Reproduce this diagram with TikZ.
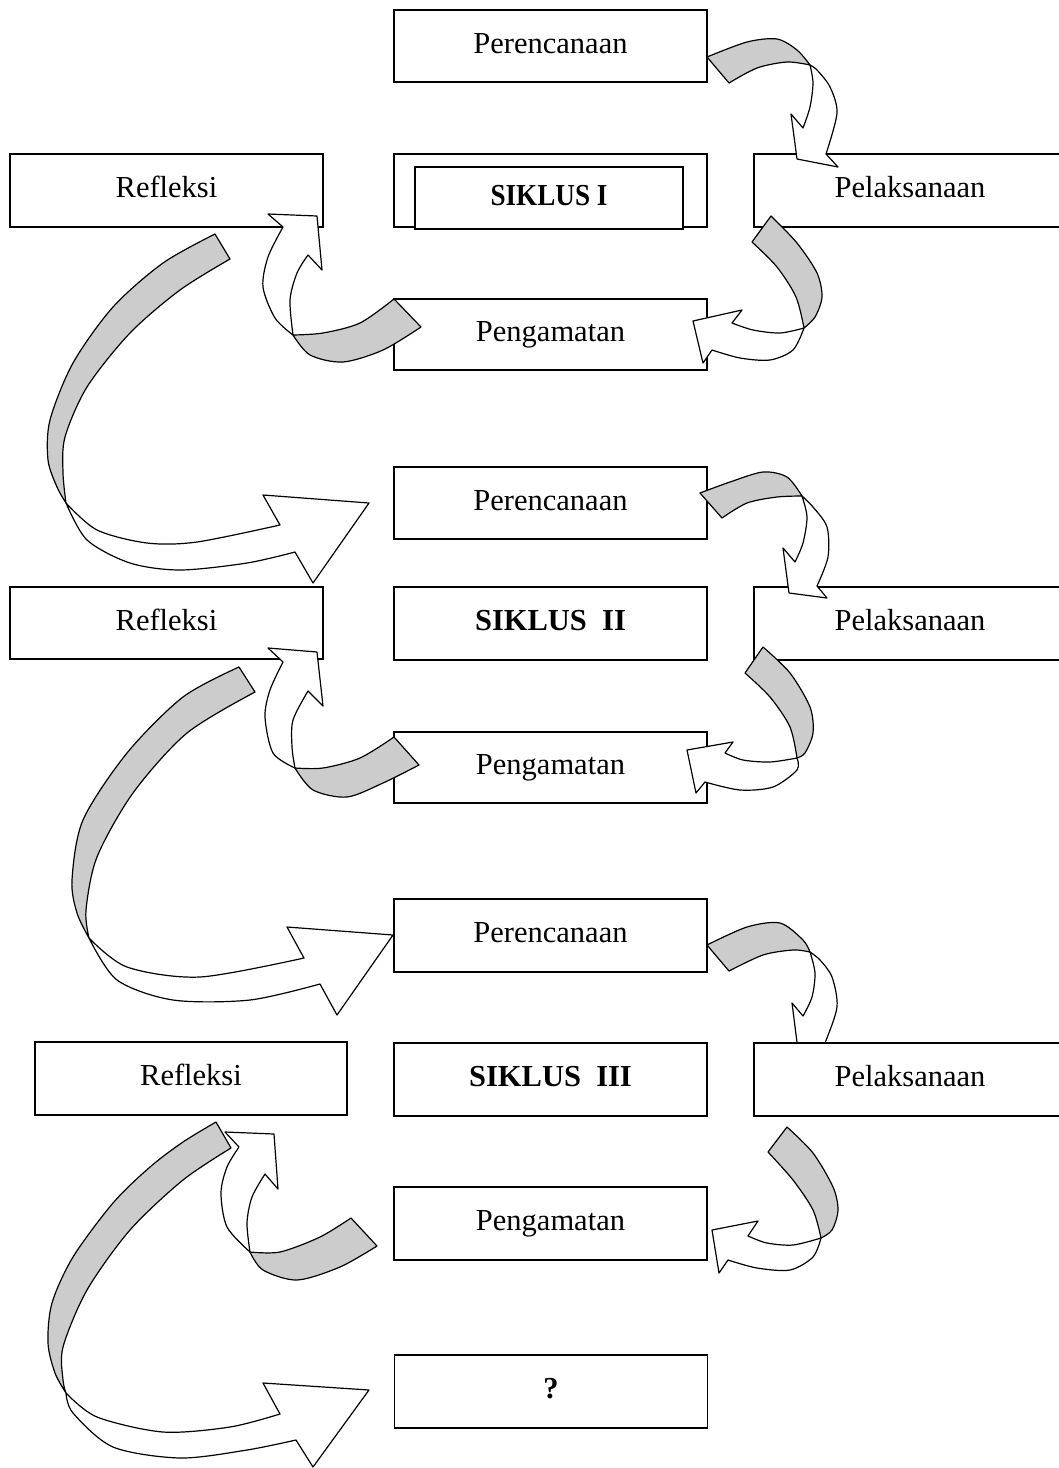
\documentclass[tikz,border=0pt]{standalone}
\usepackage{fontspec}
\setmainfont{Liberation Serif}
\usepackage{graphicx}
\definecolor{bandgray}{RGB}{204,204,204}
\tikzset{
  box/.style={draw, line width=1.5pt, fill=white, rectangle, inner sep=0pt,
    minimum width=313pt, minimum height=72pt, text height=20pt, text depth=6pt,
    font=\fontsize{30.5}{36}\selectfont},
  backband/.style={draw, fill=bandgray, line width=1.2pt, line join=round},
  frontband/.style={draw, fill=white, line width=1.2pt, line join=round},
}
\begin{document}
\begin{tikzpicture}[x=1pt,y=-1pt]
\useasboundingbox (0,0) rectangle (1059,1468);

% ---------- Cycle I boxes ----------
\node[box] (per1) at (550.5,46) {Perencanaan};
\node[box, minimum height=73pt] (ref1) at (166.5,190.5) {Refleksi};
\node[box, minimum height=73pt] (sik1o) at (550.5,190.5) {};
\node[box, minimum width=268pt, minimum height=62pt] (sik1) at (549,198) {\bfseries\scalebox{0.89}[1]{SIKLUS I}};
\node[box, minimum width=312pt, minimum height=73pt] (pel1) at (910,190.5) {Pelaksanaan};
\node[box, minimum height=71pt] (pen1) at (550.5,334.5) {Pengamatan};

% ---------- Cycle II boxes ----------
\node[box] (per2) at (550.5,503) {Perencanaan};
\node[box] (ref2) at (166.5,623) {Refleksi};
\node[box, minimum height=73pt] (sik2) at (550.5,623.5) {\bfseries SIKLUS\ \ II};
\node[box, minimum width=312pt, minimum height=73pt] (pel2) at (910,623.5) {Pelaksanaan};
\node[box, minimum height=71pt] (pen2) at (550.5,767.5) {Pengamatan};

% ---------- Cycle III boxes ----------
\node[box, minimum height=73pt] (per3) at (550.5,935.5) {Perencanaan};
\node[box, minimum width=312pt, minimum height=73pt] (ref3) at (191,1078.5) {Refleksi};
\node[box, minimum height=73pt] (sik3) at (550.5,1079.5) {\bfseries SIKLUS\ \ III};
\node[box, minimum height=73pt] (pen3) at (550.5,1223.5) {Pengamatan};
\node[box, minimum height=73pt] (q) at (551,1391.5) {\bfseries ?};

% ================= Cycle I arrows =================
% A1: Perencanaan -> Pelaksanaan
\path[backband] plot[smooth] coordinates {(707,57) (747,42) (777,39) (797,50) (810,65)}
  -- plot[smooth] coordinates {(810,65) (787,62) (757,68) (729,83)} -- cycle;
\path[frontband] plot[smooth] coordinates {(810,65) (813,83) (810,107) (803,128)}
  -- (791,114) -- (797,159) -- (838,167) -- (826,154)
  -- plot[smooth] coordinates {(826,154) (837,113) (830,87) (817,70) (810,65)} -- cycle;

% C1: Pelaksanaan -> Pengamatan
\path[backband] plot[smooth] coordinates {(771,216) (797,243) (817,273) (822,297) (815,317) (804,328)}
  -- plot[smooth] coordinates {(804,328) (796,297) (777,267) (752,242)} -- cycle;
\path[frontband] plot[smooth] coordinates {(804,328) (780,333) (753,330) (732,323)}
  -- (742,310) -- (693,321) -- (703,363) -- (712,350)
  -- plot[smooth] coordinates {(712,350) (740,358) (770,360) (793,350) (804,328)} -- cycle;

% B1: Pengamatan -> Refleksi
\path[backband] plot[smooth] coordinates {(394,299) (360,323) (323,333) (293,335)}
  -- plot[smooth] coordinates {(293,335) (310,355) (343,362) (383,350) (421,327)} -- cycle;
\path[frontband] plot[smooth] coordinates {(293,335) (275,318) (263,287) (268,257) (283,227)}
  -- (268,214) -- (317,216) -- (322,270) -- (308,255)
  -- plot[smooth] coordinates {(308,255) (297,273) (290,300) (293,335)} -- cycle;

% D1: Refleksi -> Perencanaan II
\path[backband] plot[smooth] coordinates {(215,234) (163,263) (113,307) (73,363) (50,420) (48,460) (57,487) (66,503)}
  -- plot[smooth] coordinates {(66,503) (63,473) (65,437) (87,387) (130,333) (180,290) (230,259)} -- cycle;
\path[frontband] plot[smooth] coordinates {(66,503) (97,530) (147,543) (197,542) (280,525)}
  -- (263,495) -- (369,503) -- (313,583) -- (295,552)
  -- plot[smooth] coordinates {(295,552) (247,563) (180,570) (130,563) (87,540) (66,503)} -- cycle;

% ================= Cycle II arrows =================
% A2
\path[backband] plot[smooth] coordinates {(700,493) (730,482) (763,472) (787,477) (802,496)}
  -- plot[smooth] coordinates {(802,496) (777,497) (747,503) (722,518)} -- cycle;
\path[frontband] plot[smooth] coordinates {(802,496) (807,517) (803,543) (795,562)}
  -- (783,548) -- (789,593) -- (827,598) -- (817,586)
  -- plot[smooth] coordinates {(817,586) (828,557) (827,527) (813,507) (802,496)} -- cycle;

% C2
\path[backband] plot[smooth] coordinates {(763,647) (790,673) (810,707) (813,733) (805,753) (797,758)}
  -- plot[smooth] coordinates {(797,758) (790,727) (770,697) (745,673)} -- cycle;
\path[frontband] plot[smooth] coordinates {(797,758) (770,762) (743,760) (725,753)}
  -- (733,742) -- (687,750) -- (696,793) -- (705,782)
  -- plot[smooth] coordinates {(705,782) (740,790) (773,787) (797,770) (797,758)} -- cycle;

% B2
\path[backband] plot[smooth] coordinates {(394,737) (360,758) (323,768) (295,768)}
  -- plot[smooth] coordinates {(295,768) (313,790) (347,797) (383,783) (419,765)} -- cycle;
\path[frontband] plot[smooth] coordinates {(295,768) (273,753) (265,717) (270,690) (283,662)}
  -- (268,648) -- (317,652) -- (323,706) -- (308,691)
  -- plot[smooth] coordinates {(308,691) (293,720) (292,747) (295,768)} -- cycle;

% D2
\path[backband] plot[smooth] coordinates {(239,667) (183,697) (127,753) (83,820) (72,880) (77,913) (89,938)}
  -- plot[smooth] coordinates {(89,938) (86,910) (97,857) (133,793) (187,733) (255,692)} -- cycle;
\path[frontband] plot[smooth] coordinates {(89,938) (127,967) (200,977) (304,958)}
  -- (287,927) -- (393,935) -- (337,1015) -- (320,984)
  -- plot[smooth] coordinates {(320,984) (250,1000) (173,1000) (117,980) (89,938)} -- cycle;

% ================= Cycle III arrows =================
% A3 (head hidden under Pelaksanaan)
\path[backband] plot[smooth] coordinates {(707,945) (747,927) (780,923) (803,940) (810,952)}
  -- plot[smooth] coordinates {(810,952) (793,950) (763,955) (729,971)} -- cycle;
\path[frontband] plot[smooth] coordinates {(810,952) (815,973) (812,997) (803,1016)}
  -- (792,1003) -- (798,1050) -- (836,1062) -- (821,1050)
  -- plot[smooth] coordinates {(821,1050) (825,1043) (837,1007) (832,977) (820,960) (810,952)} -- cycle;

% C3
\path[backband] plot[smooth] coordinates {(787,1127) (813,1153) (833,1187) (838,1210) (832,1230) (821,1238)}
  -- plot[smooth] coordinates {(821,1238) (813,1210) (793,1180) (768,1152)} -- cycle;
\path[frontband] plot[smooth] coordinates {(821,1238) (793,1245) (767,1243) (748,1236)}
  -- (758,1221) -- (712,1230) -- (719,1273) -- (728,1260)
  -- plot[smooth] coordinates {(728,1260) (757,1268) (790,1270) (813,1257) (821,1238)} -- cycle;

% D3
\path[backband] plot[smooth] coordinates {(216,1122) (183,1142) (150,1167) (113,1203) (73,1257) (52,1303) (48,1343) (55,1373) (66,1393)}
  -- plot[smooth] coordinates {(66,1393) (63,1380) (63,1347) (87,1290) (130,1230) (183,1180) (231,1148)} -- cycle;
\path[frontband] plot[smooth] coordinates {(66,1393) (97,1417) (163,1432) (230,1427) (280,1414)}
  -- (263,1383) -- (369,1390) -- (313,1467) -- (296,1440)
  -- plot[smooth] coordinates {(296,1440) (247,1450) (180,1458) (113,1447) (73,1413) (66,1393)} -- cycle;

% B3
\path[backband] plot[smooth] coordinates {(351,1218) (320,1237) (280,1252) (250,1252)}
  -- plot[smooth] coordinates {(250,1252) (263,1270) (297,1280) (340,1267) (377,1246)} -- cycle;
\path[frontband] plot[smooth] coordinates {(250,1252) (227,1227) (221,1193) (227,1167) (239,1147)}
  -- (225,1132) -- (274,1134) -- (278,1189) -- (265,1174)
  -- plot[smooth] coordinates {(265,1174) (252,1197) (247,1223) (250,1252)} -- cycle;

% Pelaksanaan III drawn over the head of A3
\node[box, minimum width=312pt, minimum height=73pt] (pel3) at (910,1079.5) {Pelaksanaan};
\end{tikzpicture}
\end{document}
